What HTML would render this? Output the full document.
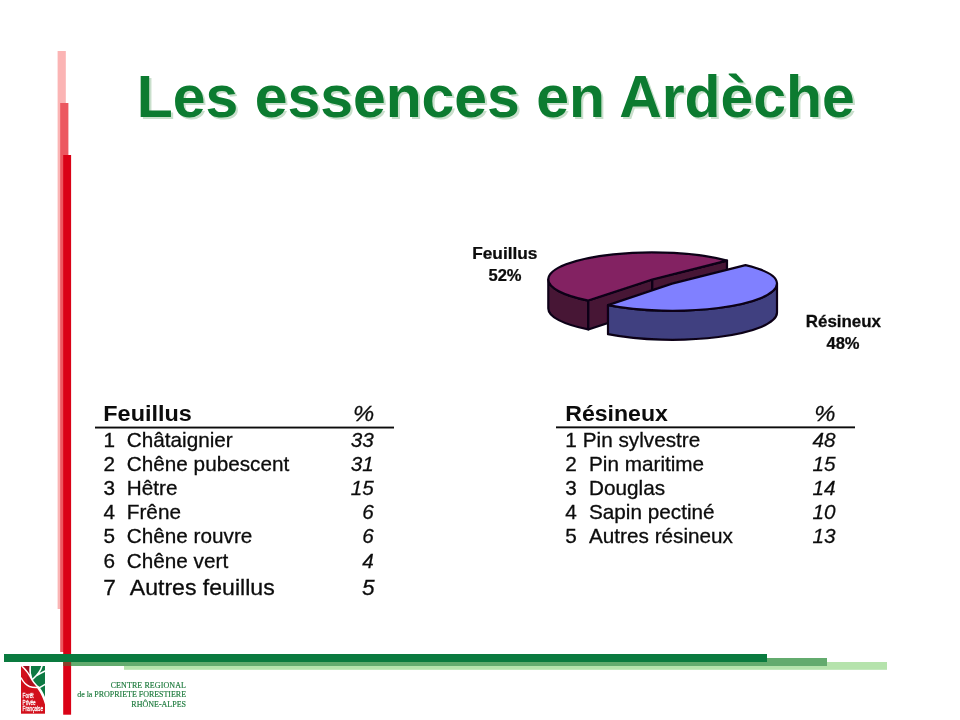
<!DOCTYPE html>
<html lang="fr">
<head>
<meta charset="utf-8">
<title>Les essences en Ardèche</title>
<style>
html,body{margin:0;padding:0;background:#fff;}
body{width:960px;height:720px;overflow:hidden;position:relative;font-family:"Liberation Sans",sans-serif;}
svg{position:absolute;left:0;top:0;display:block;}
.title{text-anchor:middle;font-family:"Liberation Sans",sans-serif;font-weight:bold;font-size:58.9px;fill:#0c7b30;}
.tshadow{fill:#c9dfcc;}
.t{font-family:"Liberation Sans",sans-serif;font-size:20.6px;fill:#0c0c0c;stroke:#0c0c0c;stroke-width:0.3px;}
.tb{font-family:"Liberation Sans",sans-serif;font-size:21.8px;font-weight:bold;fill:#0c0c0c;}
.ti{font-family:"Liberation Sans",sans-serif;font-size:20.6px;font-style:italic;fill:#0c0c0c;text-anchor:end;stroke:#0c0c0c;stroke-width:0.25px;}
.pl{font-family:"Liberation Sans",sans-serif;font-size:15.7px;font-weight:bold;fill:#0c0c0c;text-anchor:middle;stroke:#0c0c0c;stroke-width:0.25px;}
.ft{font-family:"Liberation Serif",serif;font-size:8px;fill:#1c7a3c;text-anchor:end;stroke:#1c7a3c;stroke-width:0.15px;}
.lg{font-family:"Liberation Sans",sans-serif;font-size:7px;fill:#fff;stroke:#fff;stroke-width:0.25px;}
</style>
</head>
<body>
<svg width="960" height="720" viewBox="0 0 960 720">

  <defs><filter id="sb" x="-5%" y="-20%" width="110%" height="140%"><feGaussianBlur stdDeviation="0.7"/></filter><filter id="pb" x="-5%" y="-10%" width="110%" height="120%"><feGaussianBlur stdDeviation="0.35"/></filter></defs>
  <!-- left vertical bars -->
  <g id="vbars">
    <rect x="57.600" y="51" width="8.200" height="558" fill="#fbb4b4"/>
    <rect x="60.200" y="103" width="8.200" height="549" fill="#ec5860"/>
    <rect x="63.200" y="155" width="7.900" height="559.700" fill="#da0216"/>
  </g>

  <!-- bottom horizontal bars -->
  <g id="hbars">
    <rect x="124" y="662" width="763" height="7.800" fill="#b5e3ac"/>
    <rect x="63.200" y="658" width="763.800" height="8" fill="#63ab6e"/>
    <rect x="4" y="654" width="763" height="8" fill="#0a7a3f"/>
    <rect x="63.200" y="662" width="7.900" height="4" fill="#8c3f28"/>
  </g>

  <!-- title -->
  <g id="title">
    <text class="title tshadow" x="497.900" y="119" filter="url(#sb)">Les essences en Ardèche</text>
    <text class="title" x="495.800" y="116.900">Les essences en Ardèche</text>
  </g>

  <!-- pie chart -->
  <g id="pie" stroke="#0a0418" stroke-width="2.200" stroke-linejoin="round" filter="url(#pb)">
    <path d="M548.30,279.50 A104.0,26.7 0 0 0 588.30,300.55 L588.30,329.45 A104.0,26.7 0 0 1 548.30,308.40 Z" fill="#471336"/>
    <path d="M588.30,300.55 L652.30,279.50 L652.30,308.40 L588.30,329.45 Z" fill="#471336"/>
    <path d="M652.30,279.50 L727.00,260.58 L727.00,289.48 L652.30,308.40 Z" fill="#471336"/>
    <path d="M652.30,279.50 L588.30,300.55 A104.0,26.7 0 0 1 548.30,279.50 A104.0,27.2 0 0 1 727.00,260.58 Z" fill="#832062"/>
    <path d="M608.00,305.16 A105.0,27.2 0 0 0 777.00,283.60 L777.00,312.60 A105.0,27.2 0 0 1 608.00,334.16 Z" fill="#404080"/>
    <path d="M672.00,283.60 L608.00,305.16 A105.0,27.2 0 0 0 777.00,283.60 A105.0,25.8 0 0 0 745.50,265.18 Z" fill="#8080ff"/>
  </g>

  <g id="pielabels">
    <text class="pl" transform="translate(504.8,258.7) scale(1.1,1)">Feuillus</text>
    <text class="pl" transform="translate(505,280.7) scale(1.055,1)">52%</text>
    <text class="pl" transform="translate(843.4,326.6) scale(1.078,1)">Résineux</text>
    <text class="pl" transform="translate(843,348.9) scale(1.055,1)">48%</text>
  </g>
  <!-- left table -->
  <g id="tableL">
    <text class="tb" transform="translate(103.3,420.9) scale(1.075,1)">Feuillus</text>
    <text class="ti" transform="translate(374.2,421) scale(1.06,1)" style="font-size:22.5px">%</text>
    <rect x="95" y="426.600" width="299" height="1.900" fill="#0c0c0c"/>
    <text class="t" transform="translate(103.6,447.3) scale(1.006,1)">1</text><text class="t" transform="translate(126.8,447.3) scale(1.006,1)">Châtaignier</text><text class="ti" transform="translate(373.9,447.3) scale(1.006,1)">33</text>
    <text class="t" transform="translate(103.6,471.2) scale(1.006,1)">2</text><text class="t" transform="translate(126.8,471.2) scale(1.006,1)">Chêne pubescent</text><text class="ti" transform="translate(373.9,471.2) scale(1.006,1)">31</text>
    <text class="t" transform="translate(103.6,495.3) scale(1.006,1)">3</text><text class="t" transform="translate(126.8,495.3) scale(1.006,1)">Hêtre</text><text class="ti" transform="translate(373.9,495.3) scale(1.006,1)">15</text>
    <text class="t" transform="translate(103.6,519.3) scale(1.006,1)">4</text><text class="t" transform="translate(126.8,519.3) scale(1.006,1)">Frêne</text><text class="ti" transform="translate(373.9,519.3) scale(1.006,1)">6</text>
    <text class="t" transform="translate(103.6,543.3) scale(1.006,1)">5</text><text class="t" transform="translate(126.8,543.3) scale(1.006,1)">Chêne rouvre</text><text class="ti" transform="translate(373.9,543.3) scale(1.006,1)">6</text>
    <text class="t" transform="translate(103.6,567.6) scale(1.006,1)">6</text><text class="t" transform="translate(126.8,567.6) scale(1.006,1)">Chêne vert</text><text class="ti" transform="translate(373.9,567.6) scale(1.006,1)">4</text>
    <text class="t" transform="translate(103.2,594.5) scale(1.02,1)" style="font-size:22.2px">7</text><text class="t" transform="translate(129.8,594.5) scale(1.04,1)" style="font-size:22.2px">Autres feuillus</text><text class="ti" transform="translate(374.5,594.5) scale(1.02,1)" style="font-size:22.2px">5</text>
  </g>
  <!-- right table -->
  <g id="tableR">
    <text class="tb" transform="translate(565.2,420.9) scale(1.06,1)">Résineux</text>
    <text class="ti" transform="translate(835.5,420.6) scale(1.06,1)" style="font-size:22.5px">%</text>
    <rect x="556" y="426.400" width="299" height="1.900" fill="#0c0c0c"/>
    <text class="t" transform="translate(565.2,446.8) scale(1.006,1)">1</text><text class="t" transform="translate(582.8,446.8) scale(1.006,1)">Pin sylvestre</text><text class="ti" transform="translate(835.5,446.8) scale(1.006,1)">48</text>
    <text class="t" transform="translate(565.2,470.6) scale(1.006,1)">2</text><text class="t" transform="translate(589.0,470.6) scale(1.006,1)">Pin maritime</text><text class="ti" transform="translate(835.5,470.6) scale(1.006,1)">15</text>
    <text class="t" transform="translate(565.2,495.0) scale(1.006,1)">3</text><text class="t" transform="translate(589.0,495.0) scale(1.006,1)">Douglas</text><text class="ti" transform="translate(835.5,495.0) scale(1.006,1)">14</text>
    <text class="t" transform="translate(565.2,519.2) scale(1.006,1)">4</text><text class="t" transform="translate(589.0,519.2) scale(1.006,1)">Sapin pectiné</text><text class="ti" transform="translate(835.5,519.2) scale(1.006,1)">10</text>
    <text class="t" transform="translate(565.2,543.1) scale(1.006,1)">5</text><text class="t" transform="translate(589.0,543.1) scale(1.006,1)">Autres résineux</text><text class="ti" transform="translate(835.5,543.1) scale(1.006,1)">13</text>
  </g>
  <!-- footer text -->
  <g id="footer">
    <text class="ft" x="186" y="687.700" style="letter-spacing:0.09px">CENTRE REGIONAL</text>
    <text class="ft" x="186" y="696.700" style="letter-spacing:-0.03px">de la PROPRIETE FORESTIERE</text>
    <text class="ft" x="186" y="707">RHÔNE-ALPES</text>
  </g>

  <!-- logo -->
  <g id="logo">
    <rect x="21" y="666" width="24" height="47.700" fill="#d20f1b"/>
    <path d="M30.200,666 L45,666 L45,701 L43,696 L40.200,689 L36.300,685.200 L31.900,679.700 L30,672 Z" fill="#0d7943"/>
    <path d="M24,666 L30,666 L30.500,676 Z" fill="#9c1020"/>
    <path d="M27,676 L32,680 L36,685.500 L33,687 L28,685 Z" fill="#b00f1e"/>
    <path d="M22,666.300 C25,669 28.500,673 31.900,679.700 C33.500,682.500 35,684 36.500,685.500 M30.200,666 C29.800,670 30.200,675 31.800,679 M42,666 C41,670 38,674.500 32.700,679.300 M45.100,671 C42,672.500 39.500,673.800 37,675.400 M45.100,684.400 C42.500,686 40.500,687.300 38.500,688 M21.200,678 C23,681.500 26,685 29.500,686.500 C32.500,687.700 35.500,687.700 38,687.500" fill="none" stroke="#fff" stroke-width="1.500" stroke-linecap="round"/>
    <path d="M35.500,684.500 L38.500,686 C41,688.500 43.500,693 45,697 L45,704.500 C43.500,699.500 41,693.500 37.700,689 Z" fill="#fff"/>
    <text class="lg" transform="translate(22.600,697.800) scale(0.68,1)">Forêt</text>
    <text class="lg" transform="translate(22.600,704.600) scale(0.66,1)">Privée</text>
    <text class="lg" transform="translate(22.600,711.400) scale(0.665,1)">Française</text>
  </g>
</svg>
</body>
</html>
